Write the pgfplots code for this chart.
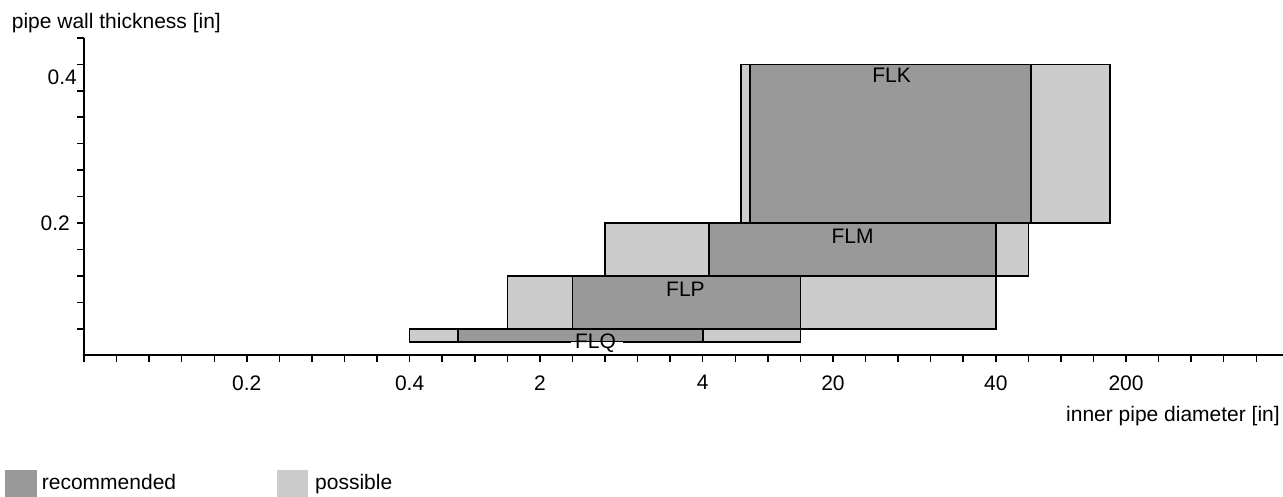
\documentclass[border=0pt]{standalone}
\usepackage{pgfplots}
\pgfplotsset{compat=1.18}
\usepackage{fontspec}
\setmainfont{Liberation Sans}
\definecolor{recgray}{HTML}{999999}
\definecolor{posgray}{HTML}{CCCCCC}
\begin{document}
\fontsize{21}{25}\selectfont
\begin{tikzpicture}
\useasboundingbox (0,0) rectangle (1283pt,497pt);
\begin{axis}[
  at={(84pt,141.7pt)}, anchor=south west,
  scale only axis, width=1199pt, height=317.4pt,
  xmin=0, xmax=36.82, ymin=0, ymax=12,
  axis x line=bottom, axis y line=left,
  axis line style={-, line width=2pt, black},
  tick align=outside, major tick length=7pt,
  tick style={line width=1.5pt, black},
  xtick={0,...,36},
  xticklabels={,,,,,0.2,,,,,0.4,,,,2,,,,,4,,,,20,,,,,40,,,,200,,,,},
  ytick={1,...,12},
  yticklabels={,,,,0.2,,,,,,,},
  extra y ticks={10.5}, extra y tick labels={0.4},
  extra y tick style={major tick length=0pt},
  ticklabel style={font=\fontsize{21}{25}\selectfont},
  xticklabel style={yshift=-6pt},
  clip=false,
  every axis plot/.append style={draw=black, line width=1.6pt},
]
% FLK
\addplot[fill=posgray] coordinates {(20.18,5) (31.5,5) (31.5,11) (20.18,11)} -- cycle;
\addplot[fill=recgray] coordinates {(20.45,5) (29.08,5) (29.08,11) (20.45,11)} -- cycle;
% FLM
\addplot[fill=posgray] coordinates {(16,3) (29,3) (29,5) (16,5)} -- cycle;
\addplot[fill=recgray] coordinates {(19.2,3) (28,3) (28,5) (19.2,5)} -- cycle;
% FLP
\addplot[fill=posgray] coordinates {(13,1) (28,1) (28,3) (13,3)} -- cycle;
\addplot[fill=recgray] coordinates {(15,1) (22,1) (22,3) (15,3)} -- cycle;
% FLQ
\addplot[fill=posgray] coordinates {(10,0.5) (22,0.5) (22,1) (10,1)} -- cycle;
\addplot[fill=recgray] coordinates {(11.49,0.5) (19,0.5) (19,1) (11.49,1)} -- cycle;
\fill[white] (axis cs:14.97,0.2) rectangle (axis cs:16.56,0.52);
\node[anchor=base, inner sep=0, yshift=-18.5pt] at (axis cs:24.8,11) {FLK};
\node[anchor=base, inner sep=0, yshift=-20.5pt] at (axis cs:23.6,5) {FLM};
\node[anchor=base, inner sep=0, yshift=-21pt] at (axis cs:18.47,3) {FLP};
\node[anchor=base, inner sep=0, yshift=-19.3pt] at (axis cs:15.71,1) {FLQ};
\end{axis}
\node[anchor=base west, inner sep=0] at (11.7pt,468.7pt) {pipe wall thickness [in]};
\node[anchor=base east, inner sep=0] at (1280pt,75.3pt) {inner pipe diameter [in]};
\fill[recgray] (5pt,0pt) rectangle (37.3pt,27pt);
\node[anchor=base west, inner sep=0] at (41.7pt,7.7pt) {recommended};
\fill[posgray] (276.7pt,0pt) rectangle (308.3pt,27pt);
\node[anchor=base west, inner sep=0] at (315pt,7.7pt) {possible};
\end{tikzpicture}
\end{document}
